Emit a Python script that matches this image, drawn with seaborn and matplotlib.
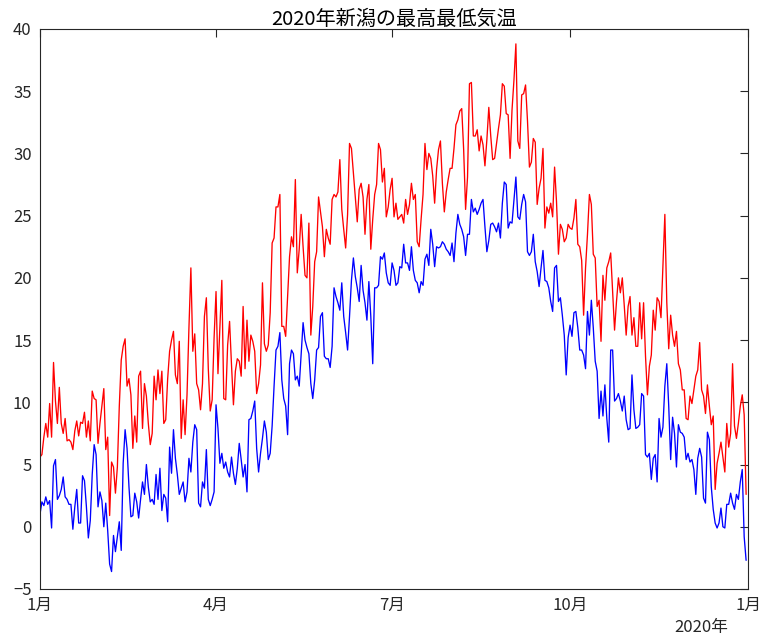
import numpy as np
import pandas as pd
import matplotlib
matplotlib.use("Agg")
import matplotlib.pyplot as plt
import seaborn as sns

# 新潟 2020年 日最高気温 (℃)
tmax_jan = [5.6, 5.8, 7.2, 8.3, 7.2, 9.9, 7.2, 13.2, 10.1, 8.3, 11.2, 8.3, 7.5, 8.7, 6.9, 7.0,
            6.8, 6.2, 7.7, 8.5, 7.3, 8.4, 8.3, 9.2, 7.2, 8.5, 6.9, 10.9, 10.3, 10.2, 6.7]
tmax_feb = [8.3, 9.7, 11.1, 6.2, 7.2, 0.9, 5.2, 4.8, 2.7, 4.8, 9.7, 13.4, 14.5, 15.1, 11.3,
            11.9, 10.6, 6.3, 8.9, 6.8, 12.1, 12.5, 7.9, 11.5, 10.5, 8.3, 6.6, 7.5, 12.1]
tmax_mar = [10.2, 12.6, 10.7, 12.5, 8.3, 8.6, 11.9, 14.1, 15.0, 15.7, 12.2, 11.5, 14.9, 7.1,
            10.2, 7.4, 10.6, 16.0, 20.8, 14.1, 15.5, 11.5, 11.0, 9.4, 11.5, 16.9, 18.4, 12.7,
            9.3, 10.2, 15.2]
tmax_apr = [18.9, 12.3, 16.0, 19.8, 10.3, 10.2, 14.6, 16.5, 13.0, 9.8, 12.5, 13.5, 13.3, 12.1,
            17.7, 12.7, 16.6, 13.3, 15.4, 14.9, 14.1, 10.7, 11.5, 13.0, 19.6, 14.7, 14.1, 14.6,
            17.2, 22.8]
tmax_may = [23.2, 25.7, 25.7, 26.7, 16.1, 16.1, 15.3, 18.5, 21.7, 23.3, 22.5, 27.9, 20.4, 22.3,
            25.1, 22.5, 20.2, 20.0, 24.4, 15.4, 17.7, 21.3, 22.1, 26.5, 25.3, 24.1, 21.7, 23.9,
            23.2, 22.7, 26.3]
tmax_jun = [26.7, 26.5, 26.9, 29.5, 25.5, 23.9, 22.4, 25.1, 30.8, 30.4, 28.4, 26.5, 24.5, 27.1,
            27.6, 26.5, 23.5, 26.3, 27.5, 22.3, 24.7, 26.7, 27.5, 30.8, 30.3, 27.7, 28.8, 24.9,
            25.7, 27.1]
tmax_jul = [28.0, 24.9, 26.0, 24.7, 24.9, 25.1, 24.4, 26.3, 25.1, 25.9, 27.6, 26.3, 26.7, 22.9,
            22.5, 24.7, 26.7, 30.8, 28.7, 30.0, 29.6, 28.2, 26.0, 28.7, 30.3, 31.0, 27.6, 25.3,
            26.9, 27.9, 28.8]
tmax_aug = [28.8, 30.4, 32.3, 32.7, 33.4, 33.6, 30.3, 25.5, 28.1, 35.6, 35.7, 31.4, 31.4, 31.9,
            30.2, 31.4, 30.7, 29.0, 31.1, 33.7, 31.4, 29.5, 29.6, 30.8, 32.0, 33.1, 35.6, 35.4,
            33.2, 33.1, 29.6]
tmax_sep = [33.5, 35.9, 38.8, 31.0, 30.4, 34.7, 34.8, 35.5, 32.6, 28.9, 29.3, 31.2, 30.9, 25.9,
            27.2, 28.0, 30.4, 24.0, 25.7, 25.2, 26.0, 24.9, 28.9, 26.1, 21.9, 24.3, 23.9, 22.9,
            23.2, 24.3]
tmax_oct = [24.0, 23.9, 24.8, 26.3, 22.7, 22.5, 21.4, 17.0, 20.8, 23.5, 26.7, 25.9, 21.9, 21.6,
            17.7, 18.2, 14.9, 20.2, 18.2, 20.8, 21.3, 22.0, 18.9, 15.8, 18.1, 20.0, 18.8, 20.0,
            17.8, 15.4, 17.7]
tmax_nov = [18.5, 15.4, 16.8, 14.5, 14.5, 18.0, 15.1, 18.0, 13.7, 10.6, 12.9, 13.8, 17.4, 15.8,
            18.4, 18.1, 16.8, 20.9, 25.1, 18.0, 14.3, 17.0, 15.4, 14.5, 15.7, 13.1, 12.6, 11.0,
            11.0, 8.7]
tmax_dec = [8.6, 10.5, 9.9, 11.0, 12.1, 12.6, 14.8, 11.0, 10.5, 9.1, 11.4, 9.7, 8.2, 8.9, 3.0,
            5.1, 5.9, 6.8, 5.6, 4.4, 8.3, 6.4, 7.5, 13.1, 8.1, 7.1, 8.3, 9.7, 10.6, 9.0, 2.6]

# 新潟 2020年 日最低気温 (℃)
tmin_jan = [1.0, 2.0, 1.7, 2.4, 1.8, 2.1, -0.1, 4.9, 5.4, 2.2, 2.5, 3.0, 4.0, 2.4, 2.2, 1.8,
            1.8, -0.2, 1.6, 3.0, 0.3, 0.3, 4.1, 3.7, 1.6, -0.9, 0.5, 4.2, 6.6, 5.8, 1.6]
tmin_feb = [2.8, 2.1, 0.0, 1.9, -0.3, -3.0, -3.6, -0.7, -2.0, -0.8, 0.4, -1.9, 5.1, 7.8, 6.3,
            3.2, 0.8, 0.9, 2.7, 2.0, 0.7, 2.2, 3.6, 2.6, 5.0, 3.2, 2.0, 2.2, 1.8]
tmin_mar = [4.2, 2.2, 4.7, 1.3, 2.6, 2.3, 0.4, 6.4, 4.3, 7.8, 5.5, 4.2, 2.6, 3.1, 3.6, 2.0,
            2.8, 5.5, 4.4, 6.8, 8.2, 7.8, 1.9, 1.6, 3.6, 3.1, 6.2, 2.2, 1.7, 2.2, 2.8]
tmin_apr = [9.8, 7.9, 5.1, 5.9, 4.7, 5.2, 4.4, 4.0, 5.6, 4.3, 3.4, 4.7, 6.7, 5.4, 4.0, 5.0,
            2.8, 8.6, 8.7, 9.3, 10.1, 6.3, 4.4, 5.9, 7.1, 8.5, 7.6, 5.4, 5.9, 8.1]
tmin_may = [11.3, 14.2, 14.5, 15.6, 11.8, 10.3, 9.7, 7.4, 13.1, 14.2, 13.9, 11.8, 12.1, 11.3,
            13.9, 16.4, 15.0, 14.4, 13.9, 11.5, 10.3, 11.8, 14.2, 14.4, 16.9, 17.2, 13.7, 13.5,
            13.5, 12.8, 14.5]
tmin_jun = [19.2, 18.5, 18.0, 17.4, 19.6, 16.9, 15.6, 14.2, 16.9, 19.8, 21.6, 20.1, 19.2, 18.1,
            21.0, 19.0, 18.0, 16.6, 19.7, 16.9, 13.1, 19.2, 19.2, 19.4, 21.7, 21.5, 22.0, 20.4,
            19.6, 19.4]
tmin_jul = [21.2, 20.6, 19.4, 19.6, 20.9, 20.8, 22.7, 21.2, 21.2, 20.6, 22.5, 20.6, 19.8, 19.6,
            18.8, 19.7, 19.4, 21.5, 21.9, 21.0, 23.9, 22.7, 20.9, 22.5, 22.4, 22.5, 22.9, 22.7,
            22.3, 22.1, 21.8]
tmin_aug = [22.8, 21.3, 23.6, 25.1, 24.3, 23.9, 23.3, 21.8, 23.5, 23.5, 26.3, 25.3, 25.6, 25.1,
            25.5, 26.0, 26.3, 24.1, 22.1, 23.0, 24.3, 24.4, 24.1, 23.7, 24.4, 23.2, 26.0, 27.7,
            27.5, 24.0, 24.5]
tmin_sep = [24.4, 26.3, 28.1, 24.9, 24.7, 25.9, 26.7, 26.1, 22.1, 21.8, 22.1, 23.5, 21.3, 20.5,
            19.3, 20.8, 22.2, 19.8, 19.7, 19.2, 18.1, 17.3, 20.8, 21.0, 18.1, 18.4, 17.0, 15.4,
            12.2, 15.2]
tmin_oct = [16.2, 15.3, 17.2, 17.3, 16.0, 14.2, 14.2, 13.8, 12.7, 17.3, 15.4, 18.2, 16.0, 13.3,
            12.5, 8.7, 10.9, 8.9, 11.4, 8.7, 6.8, 14.2, 14.2, 10.1, 10.3, 10.7, 10.1, 9.3, 10.5,
            8.6, 7.8]
tmin_nov = [7.9, 12.2, 9.4, 7.9, 8.0, 8.2, 10.7, 10.5, 5.8, 5.6, 5.9, 3.8, 5.5, 5.8, 3.6, 8.7,
            7.2, 8.0, 11.3, 13.1, 9.7, 5.4, 8.8, 7.5, 4.8, 8.2, 7.6, 7.5, 7.2, 5.4]
tmin_dec = [5.9, 5.2, 5.4, 4.6, 2.6, 5.5, 6.3, 5.6, 2.3, 1.9, 7.6, 7.0, 3.2, 1.4, 0.3, -0.1,
            0.3, 1.5, 0.0, -0.1, 1.8, 1.8, 2.7, 1.9, 1.4, 2.6, 2.2, 3.6, 4.6, -0.8, -2.7]

month_tick_dates = ["2020-01-01", "2020-04-01", "2020-07-01", "2020-10-01", "2021-01-01"]
month_tick_labels = ["1月", "4月", "7月", "10月", "1月"]
y_ticks = [-5, 0, 5, 10, 15, 20, 25, 30, 35, 40]
year_label = "2020年"
title_text = "2020年新潟の最高最低気温"

sns.set_theme(style="white")
plt.rcParams["font.family"] = ["Noto Sans CJK JP", "DejaVu Sans"]

tmax = np.concatenate([tmax_jan, tmax_feb, tmax_mar, tmax_apr, tmax_may, tmax_jun,
                       tmax_jul, tmax_aug, tmax_sep, tmax_oct, tmax_nov, tmax_dec])
tmin = np.concatenate([tmin_jan, tmin_feb, tmin_mar, tmin_apr, tmin_may, tmin_jun,
                       tmin_jul, tmin_aug, tmin_sep, tmin_oct, tmin_nov, tmin_dec])
dates = pd.date_range("2020-01-01", periods=len(tmax), freq="D")
df = pd.DataFrame({"日付": dates, "最高気温": tmax, "最低気温": tmin})

axis_color = "#262626"

fig = plt.figure(figsize=(7.63, 6.42), dpi=100)
ax = fig.add_axes([0.0524, 0.0826, 0.928, 0.8723])

sns.lineplot(data=df, x="日付", y="最高気温", color="#ff0000", linewidth=0.95, ax=ax)
sns.lineplot(data=df, x="日付", y="最低気温", color="#0000ff", linewidth=0.95, ax=ax)

ax.set_xlim(pd.Timestamp(month_tick_dates[0]), pd.Timestamp(month_tick_dates[-1]))
ax.set_ylim(y_ticks[0], y_ticks[-1])
ax.set_xticks(pd.to_datetime(month_tick_dates))
ax.set_xticklabels(month_tick_labels)
ax.set_yticks(y_ticks)
ax.set_xlabel("")
ax.set_ylabel("")

ax.tick_params(axis="both", direction="in", length=6, width=0.8, top=True, right=True,
               colors=axis_color, labelsize=12, pad=6)
for spine in ax.spines.values():
    spine.set_color(axis_color)
    spine.set_linewidth(0.8)

ax.set_title(title_text, fontsize=14.5, color="#000000", pad=3)
fig.text(0.919, 0.022, year_label, ha="center", va="center", fontsize=12, color=axis_color)

fig.savefig("out.png", dpi=100)
